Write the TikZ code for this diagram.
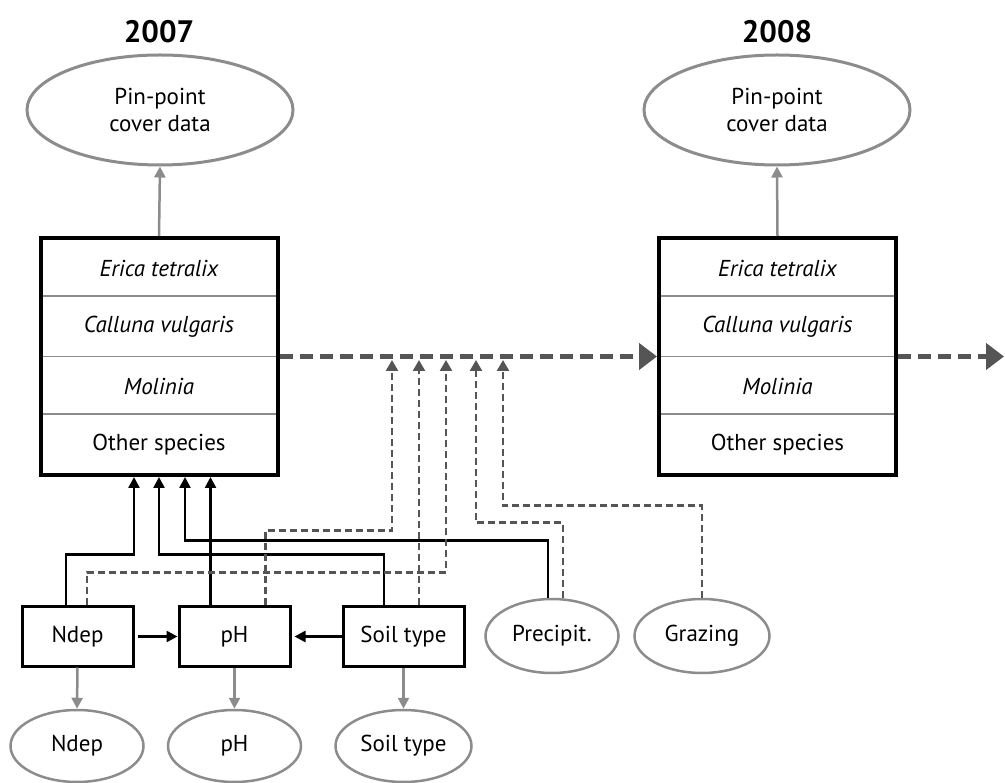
\documentclass[tikz,border=0pt]{standalone}
\usepackage{fontspec}
\setmainfont{PT Sans}
\usetikzlibrary{arrows.meta,shapes.geometric,calc}
\definecolor{lg}{HTML}{8C8C8C}
\definecolor{dg}{HTML}{555555}
\begin{document}
\begin{tikzpicture}[x=1pt,y=-1pt, font=\fontsize{23}{27}\selectfont,
 box/.style={draw=black, line width=3pt, minimum width=111pt, minimum height=59pt, inner sep=0pt},
 ell/.style={ellipse, draw=lg, line width=2.5pt, minimum width=133pt, minimum height=72pt, inner sep=0pt},
 topell/.style={ellipse, draw=lg, line width=3pt, minimum width=266pt, minimum height=110pt, inner sep=0pt, align=center},
 big/.style={draw=black, line width=4pt, minimum width=237pt, minimum height=237pt, inner sep=0pt},
 sep/.style={draw=lg, line width=1.5pt},
 garr/.style={draw=lg, line width=2.5pt, -{Triangle[length=11pt,width=11pt]}},
 sol/.style={draw=black, line width=2.5pt, -{Triangle[length=11pt,width=11pt]}},
 dsh/.style={draw=dg, line width=2.5pt, dash pattern=on 7pt off 4pt, -{Triangle[length=11pt,width=12pt]}},
 mainarr/.style={draw=dg, line width=5pt, dash pattern=on 13pt off 7pt, -{Triangle[length=18pt,width=26pt]}},
 yr/.style={font=\fontsize{31}{35}\selectfont\bfseries},
 row/.style={font=\fontsize{23}{27}\selectfont\itshape}
]
\useasboundingbox (0,0) rectangle (1005,783);

% years
\node[yr] (y1) at (159,32) {2007};
\node[yr] (y2) at (777,32) {2008};

% top ellipses
\node[topell] (top1) at (160,110) {Pin-point\\cover data};
\node[topell] (top2) at (777,110) {Pin-point\\cover data};

% big boxes
\foreach \n/\cx in {box1/159, box2/777.5}{
  \node[big] (\n) at (\cx,356.5) {};
  \draw[sep] ([yshift=-60pt]\n.north west) -- ([yshift=-60pt]\n.north east);
  \draw[sep] (\n.west) -- (\n.east);
  \draw[sep] ([yshift=-178pt]\n.north west) -- ([yshift=-178pt]\n.north east);
  \node[row] (\n r1) at (\cx,268) {Erica tetralix};
  \node[row] (\n r2) at (\cx,327) {Calluna vulgaris};
  \node[row] (\n r3) at (\cx,386) {Molinia};
  \node (\n r4) at (\cx,445) {Other species};
  \node[big] at (\cx,356.5) {};
}

\draw[garr] (box1.north) -- (top1.south);
\draw[garr] (box2.north) -- (top2.south);

% main dashed arrows
\coordinate (endR) at (1004,356.5);
\draw[mainarr] (box1.east) -- (box2.west);
\draw[mainarr] (box2.east) -- (endR);

% lower boxes
\node[box] (ndep) at (77.5,636.5) {Ndep};
\node[box] (ph) at (234.5,636.5) {pH};
\node[box, minimum width=121pt] (soil) at (403.5,636.5) {Soil type};
\node[ell, minimum height=74pt] (prec) at (552,636) {Precipit.};
\node[ell, minimum width=135pt, minimum height=74pt] (graz) at (702,636) {Grazing};

% bottom ellipses
\node[ell] (ndepE) at (77,746) {Ndep};
\node[ell] (phE) at (234.5,746) {pH};
\node[ell, minimum width=136pt] (soilE) at (403.5,746) {Soil type};

\draw[garr] (ndep.south) -- (ndepE.north);
\draw[garr] (ph.south) -- (phE.north);
\draw[garr] (soil.south) -- (soilE.north);

% horizontal arrows
\draw[sol] ([xshift=3pt]ndep.east) -- (ph.west);
\draw[sol] (soil.west) -- ([xshift=3pt]ph.east);

% solid arrows into box1
\coordinate (inN) at ([xshift=-25pt]box1.south);
\coordinate (inS) at (box1.south);
\coordinate (inP) at ([xshift=26pt]box1.south);
\coordinate (inH) at ([xshift=51.5pt]box1.south);

\draw[sol] ([xshift=-11.5pt]ndep.north) -- ++(0,-51) -| (inN);
\draw[sol] ([xshift=-19.5pt]soil.north) -- ++(0,-51) -| (inS);
\draw[sol] ([xshift=-4pt]prec.north) -- ++(0,-57) -| (inP);
\draw[sol] ([xshift=-24pt]ph.north) -- (inH);

% dashed arrows into main arrow
\coordinate (t1) at (392,360);
\coordinate (t2) at (419,360);
\coordinate (t3) at (446,360);
\coordinate (t4) at (476,360);
\coordinate (t5) at (503,360);

\draw[dsh] ([xshift=31pt]ph.north) -- ++(0,-75) -| (t1);
\draw[dsh] ([xshift=15.5pt]soil.north) -- (t2);
\draw[dsh] ([xshift=9.5pt]ndep.north) -- ++(0,-33) -| (t3);
\draw[dsh] ([xshift=11pt]prec.north) -- ++(0,-75) -| (t4);
\draw[dsh] (graz.north) -- ++(0,-92) -| (t5);
\end{tikzpicture}
\end{document}
